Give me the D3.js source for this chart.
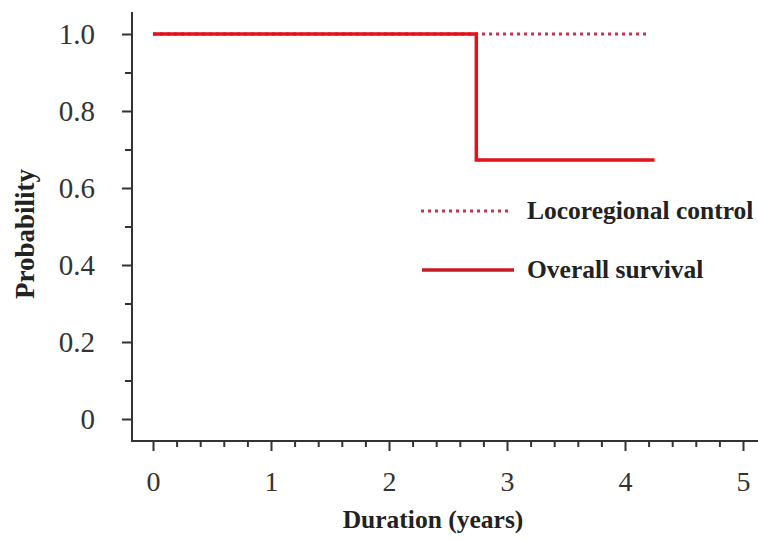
<!DOCTYPE html>
<html>
<head>
<meta charset="utf-8">
<script src="https://cdn.jsdelivr.net/npm/d3@7"></script>
<style>
  body { margin: 0; background: #fff; }
  svg { display: block; }
</style>
</head>
<body>
<div id="chart"></div>
<script>
// Kaplan-Meier style step data
const osTimes = [0, 2.74, 4.25];
const osProb = [1.0, 0.673, 0.673];
const lcTimes = [0, 4.2];
const lcProb = [1.0, 1.0];

const xMajor = [0, 1, 2, 3, 4, 5];
const xMinor = d3.range(0, 5.01, 0.2).filter(v => Math.abs(v - Math.round(v)) > 0.01);
const yMajor = [0, 0.2, 0.4, 0.6, 0.8, 1.0];
const yMinor = [0.1, 0.3, 0.5, 0.7, 0.9];

const legendNames = ["Locoregional control", "Overall survival"];

const width = 758, height = 541;
const axisX = 132, axisY = 441;

const svg = d3.select("#chart").append("svg")
  .attr("width", width).attr("height", height);

const x = d3.scaleLinear().domain([0, 5]).range([153, 743]);
const y = d3.scaleLinear().domain([0, 1]).range([419, 34]);

const font = "'Liberation Serif', 'Times New Roman', serif";

// y axis
const yAxis = svg.append("g").attr("transform", `translate(${axisX},0)`)
  .call(d3.axisLeft(y).tickValues(yMajor).tickSize(10).tickPadding(27)
    .tickFormat(d => d === 0 ? "0" : d.toFixed(1)));
yAxis.select(".domain").remove();
yAxis.selectAll("line").attr("stroke", "#333").attr("stroke-width", 2);
yAxis.selectAll("text").attr("font-family", font).attr("font-size", 29).attr("fill", "#333");

const yAxisMinor = svg.append("g").attr("transform", `translate(${axisX},0)`)
  .call(d3.axisLeft(y).tickValues(yMinor).tickSize(7).tickFormat(""));
yAxisMinor.select(".domain").remove();
yAxisMinor.selectAll("line").attr("stroke", "#333").attr("stroke-width", 2);

// x axis
const xAxis = svg.append("g").attr("transform", `translate(0,${axisY})`)
  .call(d3.axisBottom(x).tickValues(xMajor).tickSize(10).tickPadding(20).tickFormat(d3.format("d")));
xAxis.select(".domain").remove();
xAxis.selectAll("line").attr("stroke", "#333").attr("stroke-width", 2);
xAxis.selectAll("text").attr("font-family", font).attr("font-size", 28).attr("fill", "#333");

const xAxisMinor = svg.append("g").attr("transform", `translate(0,${axisY})`)
  .call(d3.axisBottom(x).tickValues(xMinor).tickSize(6).tickFormat(""));
xAxisMinor.select(".domain").remove();
xAxisMinor.selectAll("line").attr("stroke", "#333").attr("stroke-width", 2);

// axis lines
svg.append("line").attr("x1", axisX).attr("x2", axisX).attr("y1", 12).attr("y2", axisY)
  .attr("stroke", "#333").attr("stroke-width", 2);
svg.append("line").attr("x1", axisX - 1).attr("x2", width).attr("y1", axisY).attr("y2", axisY)
  .attr("stroke", "#333").attr("stroke-width", 2);

// axis titles
svg.append("text").attr("x", 433).attr("y", 528).attr("text-anchor", "middle")
  .attr("font-family", font).attr("font-weight", "bold").attr("font-size", 25.5)
  .attr("fill", "#222").text("Duration (years)");
svg.append("text").attr("transform", "translate(34,234) rotate(-90)").attr("text-anchor", "middle")
  .attr("font-family", font).attr("font-weight", "bold").attr("font-size", 27)
  .attr("fill", "#222").text("Probability");

// curves
const line = d3.line().curve(d3.curveStepAfter).x(d => x(d[0])).y(d => y(d[1]));

svg.append("path").datum(d3.zip(lcTimes, lcProb))
  .attr("d", line).attr("fill", "none")
  .attr("stroke", "#c8304e").attr("stroke-width", 3).attr("stroke-dasharray", "3,4");

svg.append("path").datum(d3.zip(osTimes, osProb))
  .attr("d", line).attr("fill", "none")
  .attr("stroke", "#e3121c").attr("stroke-width", 3.5);

// legend
const legend = svg.append("g");
legend.append("line").attr("x1", 421).attr("x2", 512).attr("y1", 211).attr("y2", 211)
  .attr("stroke", "#c8304e").attr("stroke-width", 3).attr("stroke-dasharray", "3,4");
legend.append("line").attr("x1", 422).attr("x2", 514).attr("y1", 270).attr("y2", 270)
  .attr("stroke", "#c81a22").attr("stroke-width", 3.5);
legend.selectAll("text.lbl").data(legendNames).enter().append("text")
  .attr("class", "lbl")
  .attr("x", 527).attr("y", (d, i) => 219 + i * 59)
  .attr("font-family", font).attr("font-weight", "bold").attr("font-size", 25.5)
  .attr("fill", "#222").text(d => d);
</script>
</body>
</html>
